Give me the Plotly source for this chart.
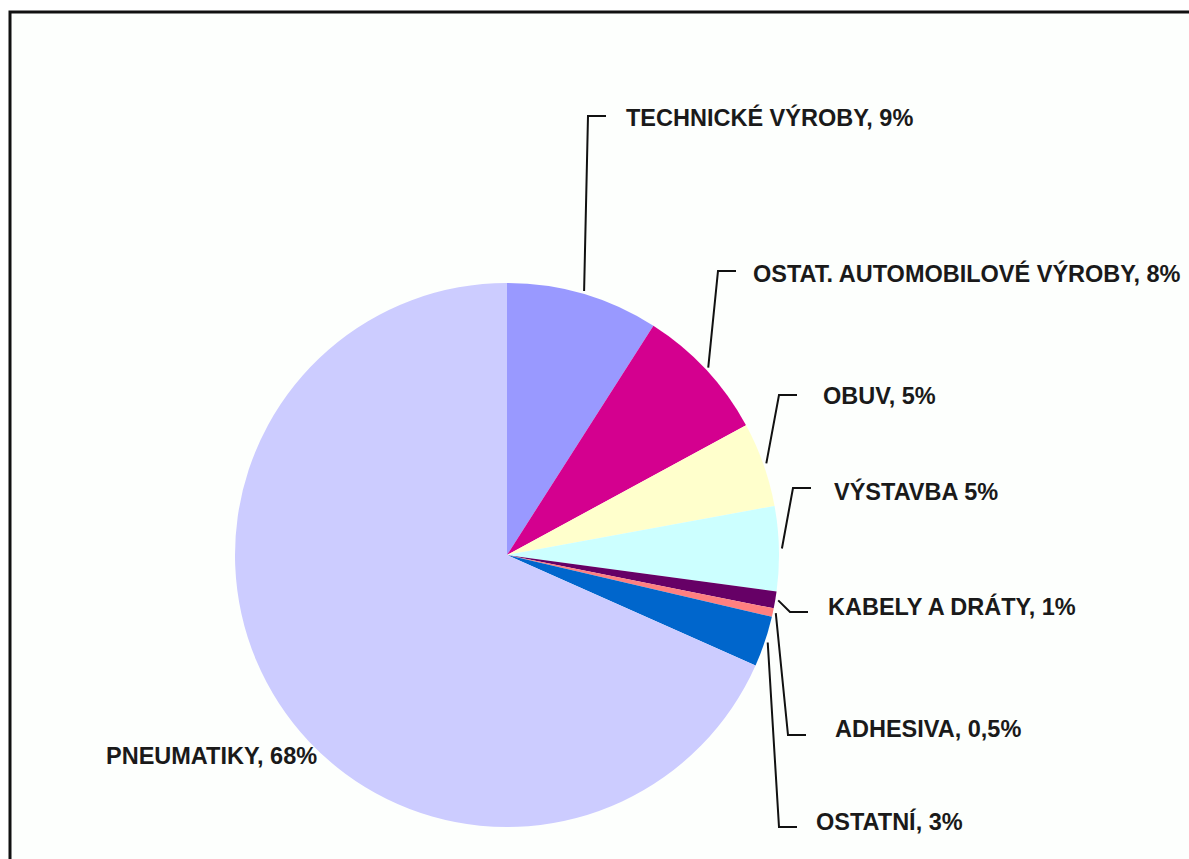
import math
import plotly.graph_objects as go

# Rubber consumption by application (share, %)
categories = [
    "TECHNICKÉ VÝROBY", "OSTAT. AUTOMOBILOVÉ VÝROBY", "OBUV", "VÝSTAVBA",
    "KABELY A DRÁTY", "ADHESIVA", "OSTATNÍ", "PNEUMATIKY",
]
shares = [9, 8, 5, 5, 1, 0.5, 3, 68]
label_texts = [
    "TECHNICKÉ VÝROBY, 9%", "OSTAT. AUTOMOBILOVÉ VÝROBY, 8%", "OBUV, 5%",
    "VÝSTAVBA 5%", "KABELY A DRÁTY, 1%", "ADHESIVA, 0,5%", "OSTATNÍ, 3%",
    "PNEUMATIKY, 68%",
]
colors = ["#9999FF", "#D4008F", "#FFFFCC", "#CCFFFF", "#660066", "#FF8080",
          "#0066CC", "#CCCCFF"]

W, H = 1189, 859
CX, CY, R = 507, 555, 272          # pie centre and radius in pixels

# leader-line elbows and label anchors (pixels); None = no leader line
elbows = [(588, 116), (718, 271), (779, 395), (793, 488), (790, 612),
          (788, 735), (779, 827), None]
label_pos = [(624, 117), (751, 274), (821, 396), (832, 491), (826, 606),
             (833, 729), (814, 821), (104, 756)]
HOOK = 18


def px(x):
    return x / W


def py(y):
    return 1 - y / H


fig = go.Figure(go.Pie(
    labels=categories,
    values=shares,
    sort=False,
    direction="clockwise",
    rotation=0,
    marker=dict(colors=colors, line=dict(width=0)),
    textinfo="none",
    hoverinfo="label+percent",
    showlegend=False,
    domain=dict(x=[px(CX - R), px(CX + R)], y=[py(CY + R), py(CY - R)]),
))

shapes = []
# frame around the chart area
shapes.append(dict(type="rect", xref="paper", yref="paper",
                   x0=px(10), x1=px(W + 20), y0=py(H + 20), y1=py(12),
                   fillcolor="#FDFFFD", line=dict(color="#111111", width=3),
                   layer="below"))

# leader lines from each slice's mid-angle to its label
total = sum(shares)
cum = 0.0
for val, elbow in zip(shares, elbows):
    mid = (cum + val / 2) / total * 2 * math.pi
    cum += val
    if elbow is None:
        continue
    ax = CX + (R + 3) * math.sin(mid)
    ay = CY - (R + 3) * math.cos(mid)
    ex, ey = elbow
    path = (f"M {px(ax)},{py(ay)} L {px(ex)},{py(ey)} "
            f"L {px(ex + HOOK)},{py(ey)}")
    shapes.append(dict(type="path", xref="paper", yref="paper", path=path,
                       line=dict(color="#111111", width=2)))

annotations = [
    dict(x=px(x), y=py(y), xref="paper", yref="paper", text=t,
         showarrow=False, xanchor="left", yanchor="middle",
         font=dict(size=23.5, color="#1a1a1a",
                   family="Liberation Sans, Arial, sans-serif",
                   weight="bold"))
    for t, (x, y) in zip(label_texts, label_pos)
]

fig.update_layout(
    width=W, height=H,
    margin=dict(l=0, r=0, t=0, b=0),
    paper_bgcolor="white",
    plot_bgcolor="white",
    shapes=shapes,
    annotations=annotations,
)

fig.write_html("out.html")
